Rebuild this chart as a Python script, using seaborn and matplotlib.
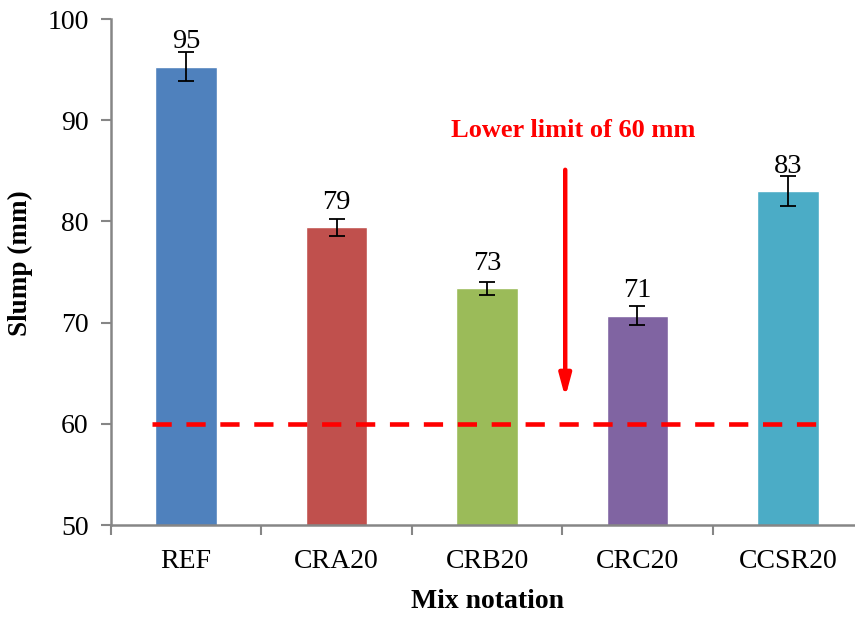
import numpy as np
import pandas as pd
import matplotlib
matplotlib.use('Agg')
import matplotlib.pyplot as plt
import seaborn as sns

# Slump values
mixes = ['REF', 'CRA20', 'CRB20', 'CRC20', 'CCSR20']
slump = [95.3, 79.4, 73.4, 70.7, 83.0]
slump_err = [1.4, 0.85, 0.65, 0.9, 1.5]
labels = ['95', '79', '73', '71', '83']
colors = ['#4F81BD', '#C0504D', '#9BBB59', '#8064A2', '#4BACC6']
limit = 60

sns.set_style('white')
plt.rcParams['font.family'] = ['Liberation Serif', 'DejaVu Serif']
plt.rcParams['text.color'] = 'black'
plt.rcParams['axes.labelcolor'] = 'black'
plt.rcParams['xtick.labelcolor'] = 'black'
plt.rcParams['ytick.labelcolor'] = 'black'

df = pd.DataFrame({'Mix': mixes, 'Slump': slump})

fig = plt.figure(figsize=(8.55, 6.17), dpi=100)
ax = fig.add_axes([0.1298, 0.1491, 0.8796, 0.8201])

sns.barplot(data=df, x='Mix', y='Slump', hue='Mix', palette=colors,
            width=0.41, legend=False, ax=ax, saturation=1)
ax.errorbar(range(len(mixes)), slump, yerr=slump_err, fmt='none',
            ecolor='black', elinewidth=1.3, capsize=6, capthick=1.3, zorder=5)

for i, (v, lab) in enumerate(zip(slump, labels)):
    ax.annotate(lab, (i, v), xytext=(0, 9), textcoords='offset points',
                ha='center', va='bottom', fontsize=20.5)

# lower limit line and note
ax.plot([-0.23, 4.24], [limit, limit], color='#FF0000', lw=3.3,
        dashes=(4.2, 3.2), zorder=6)
ax.annotate('', xy=(2.52, 62.6), xytext=(2.52, 85.1),
            arrowprops=dict(arrowstyle='-|>,head_width=0.35,head_length=1.3',
                            color='#FF0000', lw=3.2, shrinkA=0, shrinkB=0))
ax.text(2.57, 89.0, 'Lower limit of 60 mm', color='#FF0000', fontsize=19,
        fontweight='bold', ha='center', va='center')

ax.set_xlim(-0.5, 4.5)
ax.set_ylim(50, 100)
ax.set_yticks(range(50, 101, 10))
ax.set_xticks(np.arange(-0.5, 4.6, 1), minor=True)
ax.tick_params(axis='x', which='major', length=0, pad=17, labelsize=20)
ax.tick_params(axis='x', which='minor', length=7, width=1.5,
               color='#868686', direction='out', bottom=True)
ax.tick_params(axis='y', length=7, width=1.5, color='#868686',
               direction='out', left=True, labelsize=20, pad=9)

for side in ['top', 'right']:
    ax.spines[side].set_visible(False)
for side in ['left', 'bottom']:
    ax.spines[side].set_color('#868686')
    ax.spines[side].set_linewidth(1.8)

ax.set_xlabel('Mix notation', fontsize=20, fontweight='bold', labelpad=11)
ax.set_ylabel('Slump (mm)', fontsize=19.5, fontweight='bold')
ax.yaxis.set_label_coords(-0.104, 0.518)

fig.savefig('out.png', dpi=100)
